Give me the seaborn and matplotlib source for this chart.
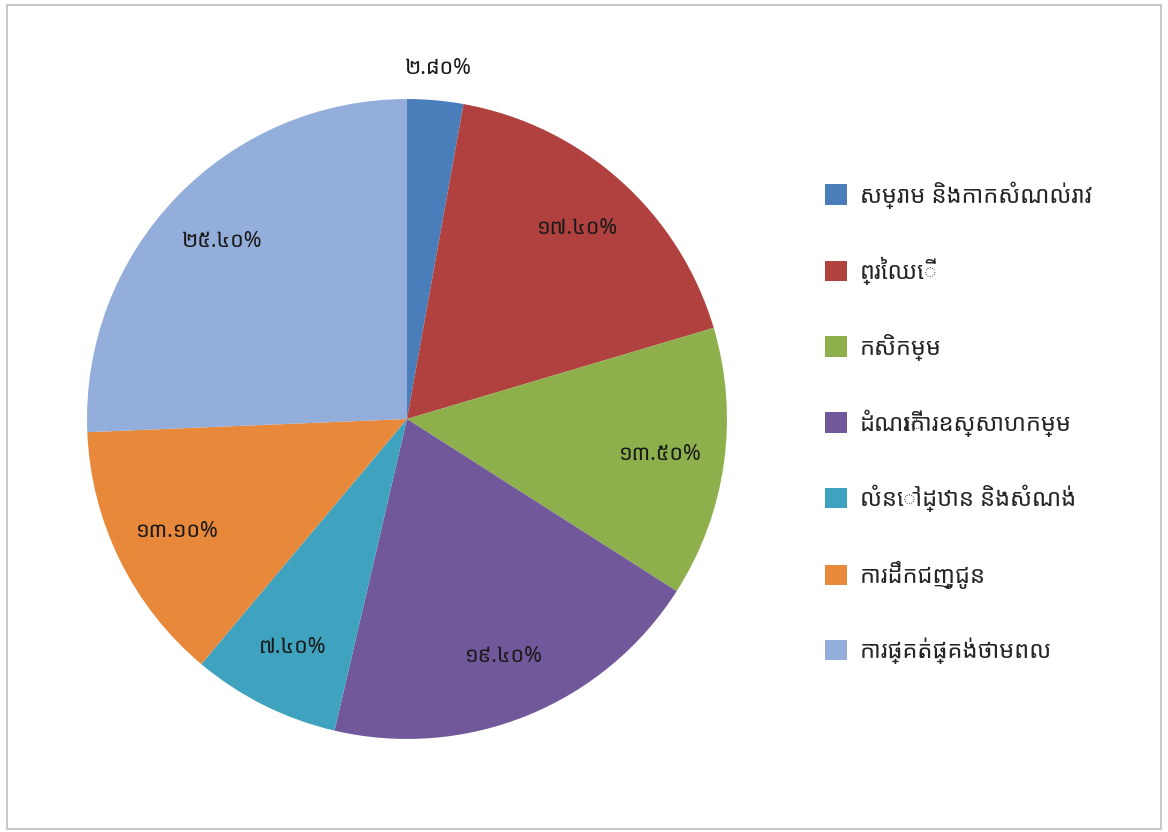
import matplotlib
matplotlib.use("Agg")
import matplotlib.pyplot as plt
import matplotlib.patches as mpatches
import seaborn as sns
import numpy as np

# Sector shares (percent)
categories = [
    "សម្រាម និងកាកសំណល់រាវ",
    "ព្រៃឈើ",
    "កសិកម្ម",
    "ដំណើរការឧស្សាហកម្ម",
    "លំនៅដ្ឋាន និងសំណង់",
    "ការដឹកជញ្ជូន",
    "ការផ្គត់ផ្គង់ថាមពល",
]
values = [2.8, 17.4, 13.5, 19.4, 7.4, 13.1, 25.4]
value_labels = ["២.៨០%", "១៧.៤០%", "១៣.៥០%", "១៩.៤០%", "៧.៤០%", "១៣.១០%", "២៥.៤០%"]
colors = ["#4A7EBB", "#B0413E", "#8DB04D", "#71589A", "#3FA2BE", "#E8883A", "#93AEDA"]

sns.set_theme(style="white")
plt.rcParams["font.family"] = ["Noto Sans Khmer", "Khmer OS", "Khmer OS System",
                               "Noto Serif Khmer", "DejaVu Sans"]

fig = plt.figure(figsize=(11.68, 8.32), dpi=100)
fig.patch.set_facecolor("white")

# thin grey frame around the chart area
fig.patches.append(mpatches.Rectangle((0.006, 0.004), 0.988, 0.99, transform=fig.transFigure,
                                      fill=False, edgecolor="#BFBFBF", linewidth=1.2))

ax = fig.add_axes([0.0745, 0.1118, 0.5479, 0.7692])
palette = sns.color_palette(colors)
wedges, _ = ax.pie(values, colors=palette, startangle=90, counterclock=False,
                   radius=1.0, wedgeprops=dict(linewidth=0))
ax.set_xlim(-1, 1)
ax.set_ylim(-1, 1)
ax.set_aspect("equal")
ax.axis("off")

# percentage labels placed along each wedge's mid-angle
for i, (w, lab) in enumerate(zip(wedges, value_labels)):
    mid = np.deg2rad((w.theta1 + w.theta2) / 2)
    r = 1.1 if values[i] < 5 else 0.8
    ax.text(r * np.cos(mid), r * np.sin(mid), lab, ha="center", va="center",
            fontsize=15.5, color="#1a1a1a", clip_on=False)

handles = [mpatches.Patch(facecolor=c, edgecolor="none") for c in palette]
fig.legend(handles, categories, loc="upper left", bbox_to_anchor=(0.706, 0.782),
           frameon=False, fontsize=17, handlelength=0.95, handleheight=0.95,
           labelspacing=2.05, handletextpad=0.55, borderaxespad=0, borderpad=0)

fig.savefig("out.png", dpi=100, facecolor="white")
